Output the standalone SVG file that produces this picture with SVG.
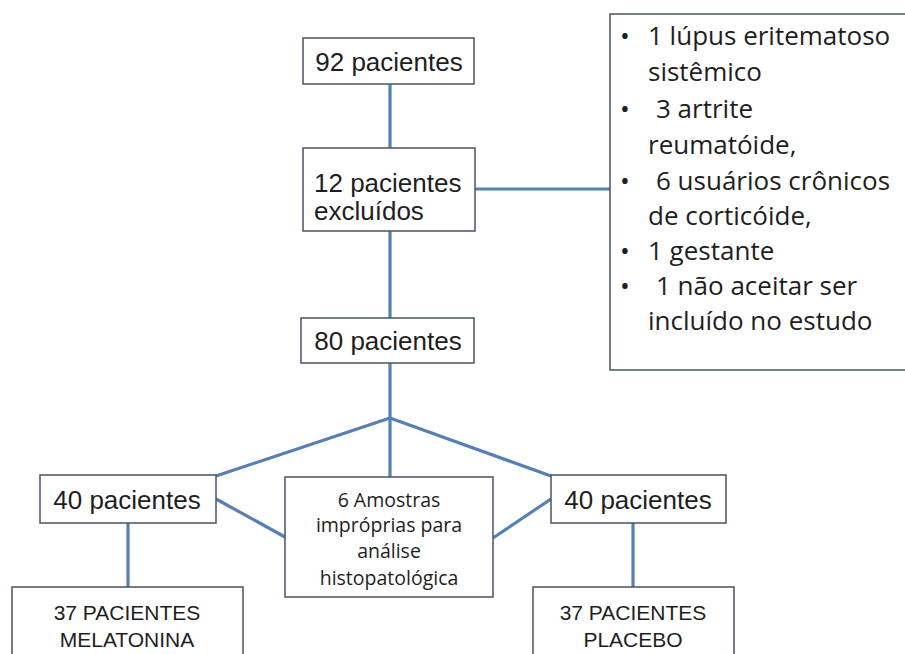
<svg xmlns="http://www.w3.org/2000/svg" width="905" height="654" viewBox="0 0 905 654">
<style>
.box{fill:#ffffff;stroke:#4a5361;stroke-width:1.5}
.con{stroke:#5580b4;stroke-width:3.2;fill:none;stroke-linecap:butt}
text{font-family:"Open Sans","Liberation Sans",sans-serif;fill:#1e1e1e}
.lib{font-family:"Liberation Sans",Arial,sans-serif}
.t25{font-size:25px}
.t26{font-size:26px}
.t21{font-size:21px}
.t19{font-size:19.5px}
.mid{text-anchor:middle}
</style>
<rect x="0" y="0" width="905" height="654" fill="#ffffff"/>
<g id="connectors">
<line class="con" x1="390" y1="84" x2="390" y2="148"/>
<line class="con" x1="390" y1="231" x2="390" y2="318"/>
<line class="con" x1="475" y1="189" x2="610" y2="189"/>
<line class="con" x1="390" y1="363" x2="390" y2="477"/>
<line class="con" x1="216" y1="476" x2="390" y2="418"/>
<line class="con" x1="390" y1="418" x2="551" y2="476"/>
<line class="con" x1="216" y1="499" x2="285" y2="537"/>
<line class="con" x1="493" y1="538" x2="551" y2="499"/>
<line class="con" x1="128" y1="523" x2="128" y2="587"/>
<line class="con" x1="633" y1="523" x2="633" y2="587"/>
</g>
<g id="n92">
<rect class="box" x="303" y="38" width="171" height="46"/>
<text class="lib t26 mid" x="389" y="71">92 pacientes</text>
</g>
<g id="n12">
<rect class="box" x="303" y="148" width="172" height="83"/>
<text class="lib t26" x="314" y="192">12 pacientes</text>
<text class="lib t26" x="314" y="220">excluídos</text>
</g>
<g id="nexcl">
<rect class="box" x="610" y="14" width="300" height="356"/>
<text class="t26 mid" x="625" y="45">•</text>
<text class="t26" x="648" y="45">1 lúpus eritematoso</text>
<text class="t26" x="648" y="81">sistêmico</text>
<text class="t26 mid" x="625" y="118">•</text>
<text class="t26" x="656" y="118">3 artrite</text>
<text class="t26" x="648" y="154">reumatóide,</text>
<text class="t26 mid" x="625" y="190">•</text>
<text class="t26" x="656" y="190">6 usuários crônicos</text>
<text class="t26" x="648" y="225">de corticóide,</text>
<text class="t26 mid" x="625" y="260">•</text>
<text class="t26" x="648" y="260">1 gestante</text>
<text class="t26 mid" x="625" y="295">•</text>
<text class="t26" x="656" y="295">1 não aceitar ser</text>
<text class="t26" x="648" y="330">incluído no estudo</text>
</g>
<g id="n80">
<rect class="box" x="301" y="318" width="173" height="45"/>
<text class="lib t26 mid" x="388" y="350">80 pacientes</text>
</g>
<g id="n40a">
<rect class="box" x="40" y="475" width="176" height="48"/>
<text class="lib t26 mid" x="127" y="509">40 pacientes</text>
</g>
<g id="n6">
<rect class="box" x="285" y="477" width="208" height="120"/>
<text class="t19 mid" x="389" y="507">6 Amostras</text>
<text class="t19 mid" x="389" y="532">impróprias para</text>
<text class="t19 mid" x="389" y="558">análise</text>
<text class="t19 mid" x="389" y="585">histopatológica</text>
</g>
<g id="n40b">
<rect class="box" x="551" y="475" width="175" height="48"/>
<text class="lib t26 mid" x="638" y="509">40 pacientes</text>
</g>
<g id="nmel">
<rect class="box" x="12" y="587" width="231" height="90"/>
<text class="lib t21 mid" x="127" y="620">37 PACIENTES</text>
<text class="lib t21 mid" x="127" y="647">MELATONINA</text>
</g>
<g id="nplac">
<rect class="box" x="533" y="587" width="201" height="90"/>
<text class="lib t21 mid" x="633" y="620">37 PACIENTES</text>
<text class="lib t21 mid" x="633" y="647">PLACEBO</text>
</g>
</svg>
